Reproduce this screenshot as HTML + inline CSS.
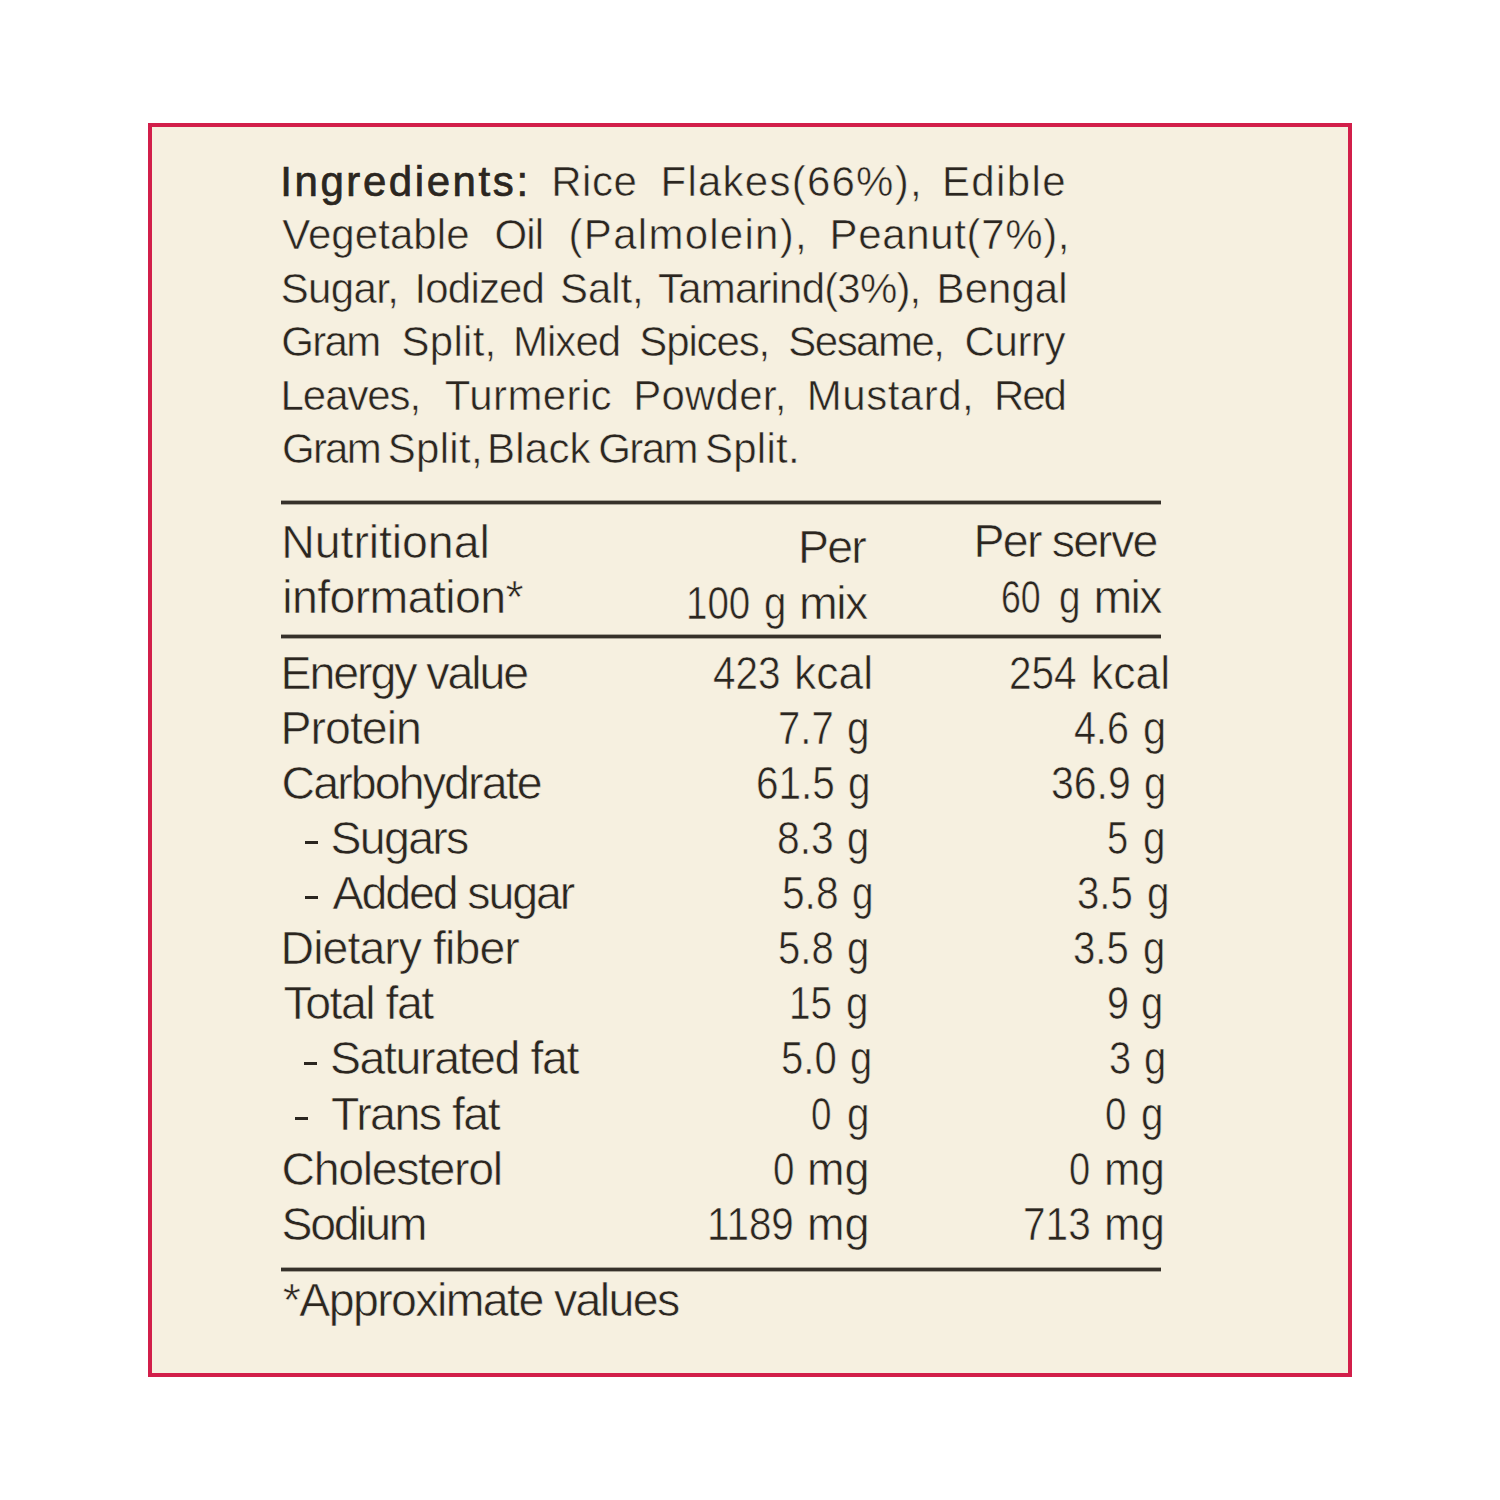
<!DOCTYPE html>
<html><head><meta charset="utf-8"><title>Nutrition label</title>
<style>
html,body{margin:0;padding:0;width:1500px;height:1500px;background:#fff;overflow:hidden}
.box{position:absolute;left:148px;top:123px;width:1196px;height:1246px;border:4px solid #D21F4A;background:#F6F0E0}
.t{position:absolute;white-space:pre;font-family:"Liberation Sans",sans-serif;color:#2B2620;line-height:1;transform-origin:0 0}
.ing{font-size:42px;font-weight:400;-webkit-text-stroke:0.55px #F6F0E0}
.ingb{font-size:42px;font-weight:400;-webkit-text-stroke:0.7px #2B2620}
.tb{font-size:46.5px;font-weight:400;-webkit-text-stroke:0.6px #F6F0E0}
.r{position:absolute;background:#36312A;height:3px;width:880px;left:281px;box-shadow:0 -1px 0 rgba(54,49,42,.4),0 1px 0 rgba(54,49,42,.4)}
.d{position:absolute;background:#2B2620;width:13px;height:3px}
</style></head><body>
<div class="box"></div>
<div class="r" style="top:501px"></div>
<div class="r" style="top:634.5px"></div>
<div class="r" style="top:1268px"></div>
<div class="d" style="left:305px;top:841px"></div>
<div class="d" style="left:305px;top:896px"></div>
<div class="d" style="left:304px;top:1062px"></div>
<div class="d" style="left:295px;top:1117px"></div>
<div class="t ingb" style="left:280.2px;top:161px;letter-spacing:2.582px">Ingredients:</div>
<div class="t ing" style="left:551.2px;top:161px;letter-spacing:0.534px">Rice</div>
<div class="t ing" style="left:660.5px;top:161px;letter-spacing:1.246px">Flakes(66%),</div>
<div class="t ing" style="left:942px;top:161px;letter-spacing:1.36px">Edible</div>
<div class="t ing" style="left:282.2px;top:214px;letter-spacing:0.061px">Vegetable</div>
<div class="t ing" style="left:494.4px;top:214px;letter-spacing:-0.85px">Oil</div>
<div class="t ing" style="left:568.6px;top:214px;letter-spacing:1.273px">(Palmolein),</div>
<div class="t ing" style="left:829.5px;top:214px;letter-spacing:0.65px">Peanut(7%),</div>
<div class="t ing" style="left:280.7px;top:268px;letter-spacing:-0.64px">Sugar,</div>
<div class="t ing" style="left:414.5px;top:268px;letter-spacing:-0.833px">Iodized</div>
<div class="t ing" style="left:560px;top:268px;letter-spacing:-0.075px">Salt,</div>
<div class="t ing" style="left:658px;top:268px;letter-spacing:-0.817px">Tamarind(3%),</div>
<div class="t ing" style="left:936.6px;top:268px;letter-spacing:0.04px">Bengal</div>
<div class="t ing" style="left:281.2px;top:321px;letter-spacing:-1.633px">Gram</div>
<div class="t ing" style="left:401.5px;top:321px;letter-spacing:0.28px">Split,</div>
<div class="t ing" style="left:512.9px;top:321px;letter-spacing:-0.925px">Mixed</div>
<div class="t ing" style="left:639.3px;top:321px;letter-spacing:-1.133px">Spices,</div>
<div class="t ing" style="left:788.3px;top:321px;letter-spacing:-1.517px">Sesame,</div>
<div class="t ing" style="left:964.6px;top:321px;letter-spacing:-0.45px">Curry</div>
<div class="t ing" style="left:280.6px;top:375px;letter-spacing:-1.083px">Leaves,</div>
<div class="t ing" style="left:444.8px;top:375px;letter-spacing:0.386px">Turmeric</div>
<div class="t ing" style="left:633.2px;top:375px;letter-spacing:0.233px">Powder,</div>
<div class="t ing" style="left:806.8px;top:375px;letter-spacing:0.5px">Mustard,</div>
<div class="t ing" style="left:994px;top:375px;letter-spacing:-2.1px">Red</div>
<div class="t ing" style="left:282px;top:428px;letter-spacing:-1.766px">Gram</div>
<div class="t ing" style="left:387.8px;top:428px;letter-spacing:0.28px">Split,</div>
<div class="t ing" style="left:487px;top:428px;letter-spacing:0.225px">Black</div>
<div class="t ing" style="left:598.3px;top:428px;letter-spacing:-1.633px">Gram</div>
<div class="t ing" style="left:704.9px;top:428px;letter-spacing:0.28px">Split.</div>
<div class="t tb" style="left:281.3px;top:519px;letter-spacing:-0.09px">Nutritional</div>
<div class="t tb" style="left:282.3px;top:574px;letter-spacing:-0.627px">information*</div>
<div class="t tb" style="left:798px;top:524px;letter-spacing:-1.8px">Per</div>
<div class="t tb" style="left:686px;top:580px;transform:scaleX(0.8279)">100</div>
<div class="t tb" style="left:764px;top:580px;transform:scaleX(0.863)">g</div>
<div class="t tb" style="left:799px;top:580px;letter-spacing:-1.55px">mix</div>
<div class="t tb" style="left:973.6px;top:518px;letter-spacing:-1.789px">Per serve</div>
<div class="t tb" style="left:1001.3px;top:574px;transform:scaleX(0.7683)">60</div>
<div class="t tb" style="left:1059.2px;top:574px;transform:scaleX(0.8301)">g</div>
<div class="t tb" style="left:1093.4px;top:574px;letter-spacing:-1.55px">mix</div>
<div class="t tb" style="left:280.5px;top:650px;letter-spacing:-2.064px">Energy value</div>
<div class="t tb" style="left:713.4px;top:650px;transform:scaleX(0.8703)">423</div>
<div class="t tb" style="left:794.2px;top:650px;transform:scaleX(0.9554)">kcal</div>
<div class="t tb" style="left:1009.4px;top:650px;transform:scaleX(0.8714)">254</div>
<div class="t tb" style="left:1090.6px;top:650px;transform:scaleX(0.9554)">kcal</div>
<div class="t tb" style="left:280.5px;top:705px;letter-spacing:-0.983px">Protein</div>
<div class="t tb" style="left:777.8px;top:705px;transform:scaleX(0.8612)">7.7</div>
<div class="t tb" style="left:847.4px;top:705px;transform:scaleX(0.8681)">g</div>
<div class="t tb" style="left:1074px;top:705px;transform:scaleX(0.8493)">4.6</div>
<div class="t tb" style="left:1142.6px;top:705px;transform:scaleX(0.8959)">g</div>
<div class="t tb" style="left:281.5px;top:760px;letter-spacing:-1.882px">Carbohydrate</div>
<div class="t tb" style="left:756.2px;top:760px;transform:scaleX(0.8708)">61.5</div>
<div class="t tb" style="left:848px;top:760px;transform:scaleX(0.8681)">g</div>
<div class="t tb" style="left:1051.4px;top:760px;transform:scaleX(0.8814)">36.9</div>
<div class="t tb" style="left:1143.8px;top:760px;transform:scaleX(0.8597)">g</div>
<div class="t tb" style="left:330.5px;top:815px;letter-spacing:-1.7px">Sugars</div>
<div class="t tb" style="left:776.6px;top:815px;transform:scaleX(0.8767)">8.3</div>
<div class="t tb" style="left:846.8px;top:815px;transform:scaleX(0.8597)">g</div>
<div class="t tb" style="left:1107.2px;top:815px;transform:scaleX(0.8198)">5</div>
<div class="t tb" style="left:1142.6px;top:815px;transform:scaleX(0.8681)">g</div>
<div class="t tb" style="left:332.5px;top:870px;letter-spacing:-2.1px">Added sugar</div>
<div class="t tb" style="left:782px;top:870px;transform:scaleX(0.8747)">5.8</div>
<div class="t tb" style="left:852.2px;top:870px;transform:scaleX(0.8301)">g</div>
<div class="t tb" style="left:1077.2px;top:870px;transform:scaleX(0.8634)">3.5</div>
<div class="t tb" style="left:1147.4px;top:870px;transform:scaleX(0.8681)">g</div>
<div class="t tb" style="left:280.5px;top:925px;letter-spacing:-0.949px">Dietary fiber</div>
<div class="t tb" style="left:777.8px;top:925px;transform:scaleX(0.8615)">5.8</div>
<div class="t tb" style="left:846.8px;top:925px;transform:scaleX(0.8597)">g</div>
<div class="t tb" style="left:1073px;top:925px;transform:scaleX(0.8634)">3.5</div>
<div class="t tb" style="left:1142.6px;top:925px;transform:scaleX(0.8597)">g</div>
<div class="t tb" style="left:283.5px;top:980px;letter-spacing:-1.511px">Total fat</div>
<div class="t tb" style="left:789.4px;top:980px;transform:scaleX(0.8318)">15</div>
<div class="t tb" style="left:846.2px;top:980px;transform:scaleX(0.8681)">g</div>
<div class="t tb" style="left:1106.6px;top:980px;transform:scaleX(0.8526)">9</div>
<div class="t tb" style="left:1140.8px;top:980px;transform:scaleX(0.8597)">g</div>
<div class="t tb" style="left:330px;top:1035px;letter-spacing:-1.4px">Saturated fat</div>
<div class="t tb" style="left:780.8px;top:1035px;transform:scaleX(0.8634)">5.0</div>
<div class="t tb" style="left:850.4px;top:1035px;transform:scaleX(0.8597)">g</div>
<div class="t tb" style="left:1109px;top:1035px;transform:scaleX(0.8553)">3</div>
<div class="t tb" style="left:1144.4px;top:1035px;transform:scaleX(0.8597)">g</div>
<div class="t tb" style="left:331px;top:1091px;letter-spacing:-1.525px">Trans fat</div>
<div class="t tb" style="left:811.4px;top:1091px;transform:scaleX(0.7924)">0</div>
<div class="t tb" style="left:846.8px;top:1091px;transform:scaleX(0.8681)">g</div>
<div class="t tb" style="left:1104.8px;top:1091px;transform:scaleX(0.8285)">0</div>
<div class="t tb" style="left:1140.8px;top:1091px;transform:scaleX(0.8681)">g</div>
<div class="t tb" style="left:281.5px;top:1146px;letter-spacing:-1.37px">Cholesterol</div>
<div class="t tb" style="left:773px;top:1146px;transform:scaleX(0.8285)">0</div>
<div class="t tb" style="left:806.8px;top:1146px;transform:scaleX(0.9691)">mg</div>
<div class="t tb" style="left:1068.8px;top:1146px;transform:scaleX(0.8182)">0</div>
<div class="t tb" style="left:1103.8px;top:1146px;transform:scaleX(0.9416)">mg</div>
<div class="t tb" style="left:281.5px;top:1201px;letter-spacing:-2.34px">Sodium</div>
<div class="t tb" style="left:706.6px;top:1201px;transform:scaleX(0.8682)">1189</div>
<div class="t tb" style="left:806.8px;top:1201px;transform:scaleX(0.9691)">mg</div>
<div class="t tb" style="left:1023.2px;top:1201px;transform:scaleX(0.8725)">713</div>
<div class="t tb" style="left:1103.8px;top:1201px;transform:scaleX(0.9416)">mg</div>
<div class="t tb" style="left:282.8px;top:1277px;letter-spacing:-1.606px">*Approximate values</div>
</body></html>
